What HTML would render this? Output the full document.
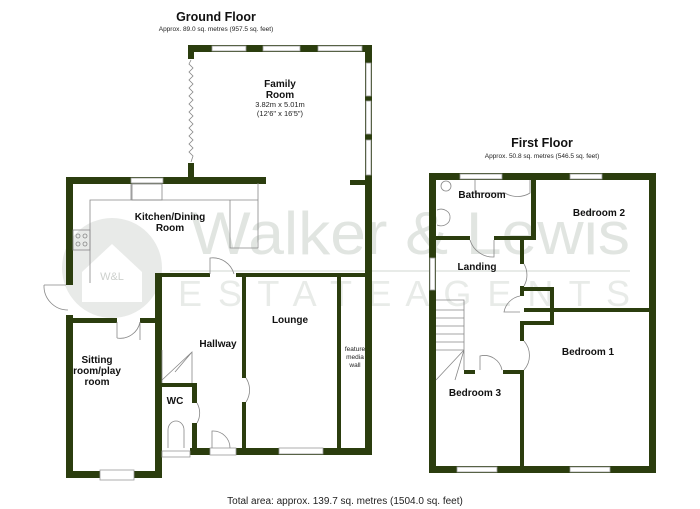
<!DOCTYPE html>
<html><head><meta charset="utf-8"><style>
html,body{margin:0;padding:0;background:#fff;}
svg{display:block;font-family:"Liberation Sans",Arial,sans-serif;}
.w{fill:#2b3d0e;}
.win{fill:#fff;stroke:#9a9a9a;stroke-width:0.8;}
.t{font-weight:bold;fill:#111;text-anchor:middle;}
.s{fill:#222;text-anchor:middle;}
.th{fill:none;stroke:#888;stroke-width:0.8;}
</style></head><body>
<svg width="700" height="509" viewBox="0 0 700 509">
<!-- watermark -->
<circle cx="112" cy="268" r="50" fill="#e8eae8"/>
<path d="M82 272 L112 244 L142 272 L142 302 L82 302Z" fill="#fff"/>
<text x="112" y="280" font-size="11" fill="#cdd0cd" text-anchor="middle">W&amp;L</text>
<text x="190" y="254" font-size="60" fill="#e1e5e1" textLength="440" lengthAdjust="spacingAndGlyphs">Walker &amp; Lewis</text>
<rect x="170" y="270" width="460" height="2" fill="#e8ebe8"/>
<text x="178" y="306" font-size="36" fill="#e8ebe8" textLength="452" lengthAdjust="spacing">E S T A T E   A G E N T S</text>

<!-- titles -->
<text x="216" y="21" font-size="12.5" class="t">Ground Floor</text>
<text x="216" y="31" font-size="6.5" class="s">Approx. 89.0 sq. metres (957.5 sq. feet)</text>
<text x="542" y="147" font-size="12.5" class="t">First Floor</text>
<text x="542" y="158" font-size="6.5" class="s">Approx. 50.8 sq. metres (546.5 sq. feet)</text>
<text x="345" y="504" font-size="10" class="s">Total area: approx. 139.7 sq. metres (1504.0 sq. feet)</text>

<!-- GROUND FLOOR walls -->
<rect class="w" x="188" y="45" width="184" height="7"/>
<rect class="win" x="212" y="46" width="34" height="5"/>
<rect class="win" x="263" y="46" width="37" height="5"/>
<rect class="win" x="318" y="46" width="44" height="5"/>
<rect class="w" x="365" y="45" width="7" height="410"/>
<rect class="win" x="366" y="63" width="5" height="33"/>
<rect class="win" x="366" y="101" width="5" height="33"/>
<rect class="win" x="366" y="140" width="5" height="35"/>
<rect class="w" x="188" y="45" width="6" height="14"/>
<polyline class="th" points="191,60 189,64 193,68 189,72 193,76 189,80 193,84 189,88 193,92 189,96 193,100 189,104 193,108 189,112 193,116 189,120 193,124 189,128 193,132 189,136 193,140 189,144 193,148 189,152 193,156 191,162"/>
<rect class="w" x="188" y="163" width="6" height="20"/>
<rect class="w" x="66" y="177" width="200" height="7"/>
<rect class="win" x="131" y="178" width="32" height="5"/>
<rect class="w" x="350" y="180" width="22" height="5"/>
<rect class="w" x="66" y="177" width="7" height="108"/>
<rect class="w" x="66" y="315" width="7" height="163"/>
<rect class="w" x="73" y="318" width="44" height="5"/>
<rect class="w" x="140" y="318" width="17" height="5"/>
<rect class="w" x="66" y="471" width="96" height="7"/>
<rect class="win" x="100" y="470" width="34" height="10"/>
<rect class="w" x="155" y="273" width="7" height="205"/>
<rect class="w" x="155" y="273" width="55" height="4"/>
<rect class="w" x="236" y="273" width="136" height="4"/>
<rect class="w" x="242" y="273" width="4" height="105"/>
<rect class="w" x="242" y="402" width="4" height="50"/>
<rect class="w" x="337" y="277" width="4" height="175"/>
<rect class="w" x="190" y="448" width="182" height="7"/>
<rect class="win" x="279" y="448" width="44" height="6"/>
<rect class="win" x="210" y="448" width="26" height="7" stroke="none"/>
<rect class="win" x="162" y="451" width="28" height="6"/>
<rect class="w" x="155" y="383" width="42" height="4"/>
<rect class="w" x="192" y="383" width="5" height="20"/>
<rect class="w" x="192" y="423" width="5" height="30"/>
<!-- doors ground -->
<path class="th" d="M44 285 L66 285 M44 285 A24 24 0 0 0 68 310"/>
<path class="th" d="M117 322 L117 338 M117 338 A20 20 0 0 0 140 322 M140 322 L140 340"/>
<path class="th" d="M210 274 L210 258 A22 22 0 0 1 234 274"/>
<path class="th" d="M246 378 A22 22 0 0 1 246 402"/>
<path class="th" d="M197 403 A20 20 0 0 1 197 423"/>
<path class="th" d="M212 448 L212 431 A17 17 0 0 1 230 448"/>
<!-- kitchen units -->
<path class="th" d="M131 184 L131 200 L90 200 L90 283 M131 200 L258 200 L258 183 M258 200 L258 248 L230 248 L230 200"/>
<rect class="th" x="73" y="230" width="17" height="20"/>
<circle class="th" cx="78" cy="236" r="2"/><circle class="th" cx="85" cy="236" r="2"/>
<circle class="th" cx="78" cy="244" r="2"/><circle class="th" cx="85" cy="244" r="2"/>
<rect class="th" x="132" y="184" width="30" height="16"/>
<path class="th" d="M162 350 L162 383 M162 380 L192 352 L192 383 M175 372 L192 352"/>
<path class="th" d="M168 448 L168 430 A8 9 0 0 1 184 430 L184 448"/>
<!-- ground labels -->
<text x="280" y="87" font-size="10" class="t">Family</text>
<text x="280" y="98" font-size="10" class="t">Room</text>
<text x="280" y="107" font-size="7.5" class="s">3.82m x 5.01m</text>
<text x="280" y="116" font-size="7.5" class="s">(12'6" x 16'5")</text>
<text x="170" y="220" font-size="10" class="t">Kitchen/Dining</text>
<text x="170" y="231" font-size="10" class="t">Room</text>
<text x="97" y="363" font-size="10" class="t">Sitting</text>
<text x="97" y="374" font-size="10" class="t">room/play</text>
<text x="97" y="385" font-size="10" class="t">room</text>
<text x="218" y="347" font-size="10" class="t">Hallway</text>
<text x="290" y="323" font-size="10" class="t">Lounge</text>
<text x="175" y="404" font-size="10" class="t">WC</text>
<text x="355" y="351" font-size="6.5" class="s">feature</text>
<text x="355" y="359" font-size="6.5" class="s">media</text>
<text x="355" y="367" font-size="6.5" class="s">wall</text>

<!-- FIRST FLOOR -->
<rect class="w" x="429" y="173" width="227" height="7"/>
<rect class="win" x="460" y="174" width="42" height="5"/>
<rect class="win" x="570" y="174" width="32" height="5"/>
<rect class="w" x="429" y="466" width="227" height="7"/>
<rect class="win" x="457" y="467" width="40" height="5"/>
<rect class="win" x="570" y="467" width="40" height="5"/>
<rect class="w" x="429" y="173" width="7" height="300"/>
<rect class="win" x="430" y="258" width="5" height="32"/>
<rect class="w" x="649" y="173" width="7" height="300"/>
<rect class="w" x="436" y="236" width="34" height="4"/>
<rect class="w" x="494" y="236" width="42" height="4"/>
<rect class="w" x="531" y="173" width="5" height="67"/>
<rect class="w" x="520" y="236" width="4" height="28"/>
<rect class="w" x="520" y="286" width="4" height="10"/>
<rect class="w" x="520" y="287" width="34" height="4"/>
<rect class="w" x="550" y="287" width="4" height="38"/>
<rect class="w" x="524" y="308" width="126" height="4"/>
<rect class="w" x="520" y="321" width="34" height="4"/>
<rect class="w" x="520" y="321" width="4" height="20"/>
<rect class="w" x="520" y="370" width="4" height="100"/>
<rect class="w" x="464" y="370" width="11" height="4"/>
<rect class="w" x="503" y="370" width="21" height="4"/>
<!-- first floor doors & fixtures -->
<path class="th" d="M470 240 A24 24 0 0 0 494 257 L494 240"/>
<path class="th" d="M524 264 A22 22 0 0 1 524 286"/>
<path class="th" d="M520 296 A20 20 0 0 0 504 312 L520 312"/>
<path class="th" d="M524 341 A22 22 0 0 1 524 370"/>
<path class="th" d="M480 370 L480 356 A18 18 0 0 1 502 370"/>
<path class="th" d="M436 300 L464 300 L464 370 M436 310 L464 310 M436 318 L464 318 M436 326 L464 326 M436 334 L464 334 M436 342 L464 342 M436 350 L464 350 M464 350 L436 380 M464 350 L455 380"/>
<path class="th" d="M475 180 L475 193 L505 193 A20 16 0 0 0 530 193 L530 180"/>
<path class="th" d="M437 210 A9 8 0 0 1 450 218 A9 8 0 0 1 437 225"/>
<circle class="th" cx="446" cy="186" r="5"/>
<text x="482" y="198" font-size="10" class="t">Bathroom</text>
<text x="599" y="216" font-size="10" class="t">Bedroom 2</text>
<text x="477" y="270" font-size="10" class="t">Landing</text>
<text x="588" y="355" font-size="10" class="t">Bedroom 1</text>
<text x="475" y="396" font-size="10" class="t">Bedroom 3</text>
</svg>
</body></html>
